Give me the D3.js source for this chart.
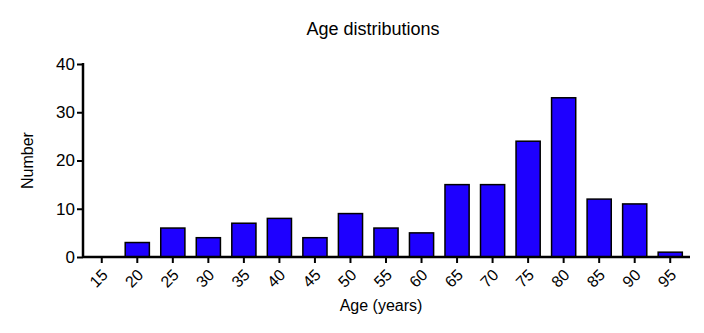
<!DOCTYPE html>
<html>
<head>
<meta charset="utf-8">
<script src="https://cdn.jsdelivr.net/npm/d3@7"></script>
<style>
  body { margin: 0; background: #fff; }
  text { font-family: "Liberation Sans", Arial, sans-serif; fill: #000; }
</style>
</head>
<body>
<script>
// chart data
const ages = ['15', '20', '25', '30', '35', '40', '45', '50', '55', '60', '65', '70', '75', '80', '85', '90', '95'];
const counts = [0, 3, 6, 4, 7, 8, 4, 9, 6, 5, 15, 15, 24, 33, 12, 11, 1];
const yTicks = [0, 10, 20, 30, 40];

const width = 704, height = 333;
const plotLeft = 83, plotRight = 690, plotTop = 64, plotBottom = 257;

const svg = d3.select('body').append('svg')
    .attr('width', width)
    .attr('height', height);

const x = d3.scaleBand()
    .domain(ages)
    .range([plotLeft + 1, plotRight - 2])
    .paddingInner(0.32)
    .paddingOuter(0.16);

const y = d3.scaleLinear()
    .domain([0, 40])
    .range([plotBottom, plotTop]);

// bars
svg.append('g').selectAll('rect')
    .data(counts.map((v, i) => ({ age: ages[i], value: v })).filter(d => d.value > 0))
    .join('rect')
    .attr('x', d => x(d.age))
    .attr('y', d => y(d.value))
    .attr('width', x.bandwidth())
    .attr('height', d => y(0) - y(d.value))
    .attr('fill', '#1e00ff')
    .attr('stroke', '#000')
    .attr('stroke-width', 1.5);

// y axis
const yAxis = svg.append('g')
    .attr('transform', `translate(${plotLeft},0)`)
    .call(d3.axisLeft(y).tickValues(yTicks).tickSize(6).tickPadding(2).tickSizeOuter(0));
yAxis.select('.domain').attr('stroke-width', 2.5).attr('d', `M0,${plotTop - 1}V${plotBottom + 1}`);
yAxis.selectAll('.tick line').attr('stroke-width', 2);
yAxis.selectAll('.tick text').style('font-size', '17px');

// x axis
const xAxis = svg.append('g')
    .attr('transform', `translate(0,${plotBottom})`)
    .call(d3.axisBottom(x).tickSize(6).tickSizeOuter(0));
xAxis.select('.domain').attr('stroke-width', 2.5).attr('d', `M${plotLeft},0H${plotRight}`);
xAxis.selectAll('.tick line').attr('stroke-width', 2);
xAxis.selectAll('.tick text')
    .style('font-size', '16px')
    .attr('text-anchor', 'end')
    .attr('dy', '0.35em')
    .attr('transform', 'translate(3,15) rotate(-45)')
    .attr('x', 0)
    .attr('y', 0);

// titles
svg.append('text')
    .attr('x', 373).attr('y', 35)
    .attr('text-anchor', 'middle')
    .style('font-size', '18px')
    .text('Age distributions');

svg.append('text')
    .attr('x', 381).attr('y', 311)
    .attr('text-anchor', 'middle')
    .style('font-size', '16px')
    .text('Age (years)');

svg.append('text')
    .attr('transform', `translate(33,${(plotTop + plotBottom) / 2}) rotate(-90)`)
    .attr('text-anchor', 'middle')
    .style('font-size', '16px')
    .text('Number');
</script>
</body>
</html>
